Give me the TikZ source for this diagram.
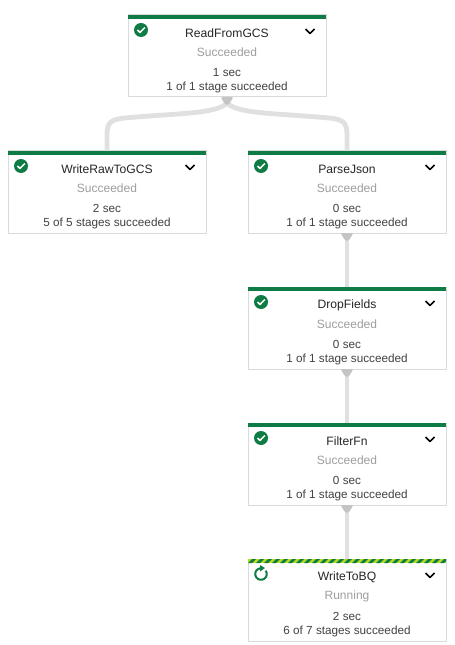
\documentclass[tikz,border=0pt]{standalone}
\usepackage{fontspec}
\setmainfont{Liberation Sans}
\definecolor{jobgreen}{HTML}{0F7B45}
\definecolor{joblime}{HTML}{B7DE1E}
\definecolor{jobline}{HTML}{E0E0E0}
\definecolor{jobtip}{HTML}{C4C4C4}
\definecolor{jobborder}{HTML}{DADADA}
\definecolor{jobgrey}{HTML}{9E9E9E}
\definecolor{jobtext}{HTML}{424242}
\tikzset{
    stagebox/.style={draw=jobborder, fill=white, line width=0.75pt, minimum width=148.5pt, minimum height=61.5pt, inner sep=0pt, outer sep=0pt},
    stagetitle/.style={font=\fontsize{9.1}{11}\selectfont, text=black!85, inner sep=0pt},
    stagestatus/.style={font=\fontsize{9}{11}\selectfont, text=jobgrey, inner sep=0pt},
    stageinfo/.style={font=\fontsize{8.8}{11}\selectfont, text=jobtext, inner sep=0pt},
    jobedge/.style={draw=jobline, line width=3.6pt},
    chevron/.style={draw=black, line width=1.3pt},
}
\begin{document}
\begin{tikzpicture}[x=0.75pt, y=-0.75pt, line join=round, line cap=butt]
    \useasboundingbox[fill=white] (0,0) rectangle (454,645);
    % boxes with their texts
    \foreach \n/\i/\j/\ttl/\sts/\tm/\stg in {
        read/227/56/ReadFromGCS/Succeeded/1 sec/1 of 1 stage succeeded,
        writeraw/107/192/WriteRawToGCS/Succeeded/2 sec/5 of 5 stages succeeded,
        parse/347/192/ParseJson/Succeeded/0 sec/1 of 1 stage succeeded,
        drop/347/328/DropFields/Succeeded/0 sec/1 of 1 stage succeeded,
        filter/347/464/FilterFn/Succeeded/0 sec/1 of 1 stage succeeded,
        bq/347/600/WriteToBQ/Running/2 sec/6 of 7 stages succeeded}{
        \node[stagebox] (\n) at (\i,\j) {};
        \node[stagetitle] (\n-title) at (\i,\j-23) {\ttl};
        \node[stagestatus] (\n-status) at (\i,\j-3.5) {\sts};
        \node[stageinfo] (\n-time) at (\i,\j+16.5) {\tm};
        \node[stageinfo] (\n-stages) at (\i,\j+31.5) {\stg};
        \coordinate (\n-chev) at (\i+83,\j-25);
        \draw[chevron] ([shift={(-4.5,-2)}]\n-chev) -- ([shift={(0,2.5)}]\n-chev) -- ([shift={(4.5,-2)}]\n-chev);
    }
    % green bars and check marks
    \foreach \n in {read,writeraw,parse,drop,filter}{
        \fill[jobgreen] (\n.north west) rectangle ([yshift=-3pt]\n.north east);
        \fill[jobgreen] ([shift={(13,15)}]\n.north west) circle (7);
        \draw[white, line width=1.1pt] ([shift={(9.5,15)}]\n.north west) -- ([shift={(12,17.5)}]\n.north west) -- ([shift={(16.8,12.5)}]\n.north west);
    }
    % striped bar of the running stage
    \fill[joblime] (bq.north west) rectangle ([yshift=-3pt]bq.north east);
    \begin{scope}
        \clip (bq.north west) rectangle ([yshift=-3pt]bq.north east);
        \foreach \k in {0,...,25}{
            \fill[jobgreen] ([shift={(\k*8,4)}]bq.north west) -- ++(4,0) -- ++(4,-4) -- ++(-4,0) -- cycle;
        }
    \end{scope}
    \coordinate (bq-icon) at ([shift={(13,15)}]bq.north west);
    \draw[jobgreen, line width=1.5pt] ([shift={(-35:5.8)}]bq-icon) arc[start angle=-35, end angle=265, radius=5.8];
    \fill[jobgreen] ([shift={(-1,-9)}]bq-icon) -- ([shift={(4,-6)}]bq-icon) -- ([shift={(-1,-2.5)}]bq-icon) -- cycle;
    % connectors
    \draw[jobedge] (read.south) ++(0,6) .. controls (216,114) and (180,113) .. (125,118) .. controls (112,119.2) and (107,122) .. (107,134) -- (writeraw.north);
    \draw[jobedge] (read.south) ++(0,6) .. controls (238,114) and (274,113) .. (329,118) .. controls (342,119.2) and (347,122) .. (347,134) -- (parse.north);
    \draw[jobedge] (parse.south) -- (drop.north);
    \draw[jobedge] (drop.south) -- (filter.north);
    \draw[jobedge] (filter.south) -- (bq.north);
    % tips under the boxes
    \foreach \n in {read,parse,drop,filter}{
        \fill[jobtip, rounded corners=1.5pt] ([shift={(-6.5,0)}]\n.south) -- ([shift={(6.5,0)}]\n.south) -- ([shift={(1.5,8)}]\n.south) -- ([shift={(-1.5,8)}]\n.south) -- cycle;
    }
\end{tikzpicture}
\end{document}
